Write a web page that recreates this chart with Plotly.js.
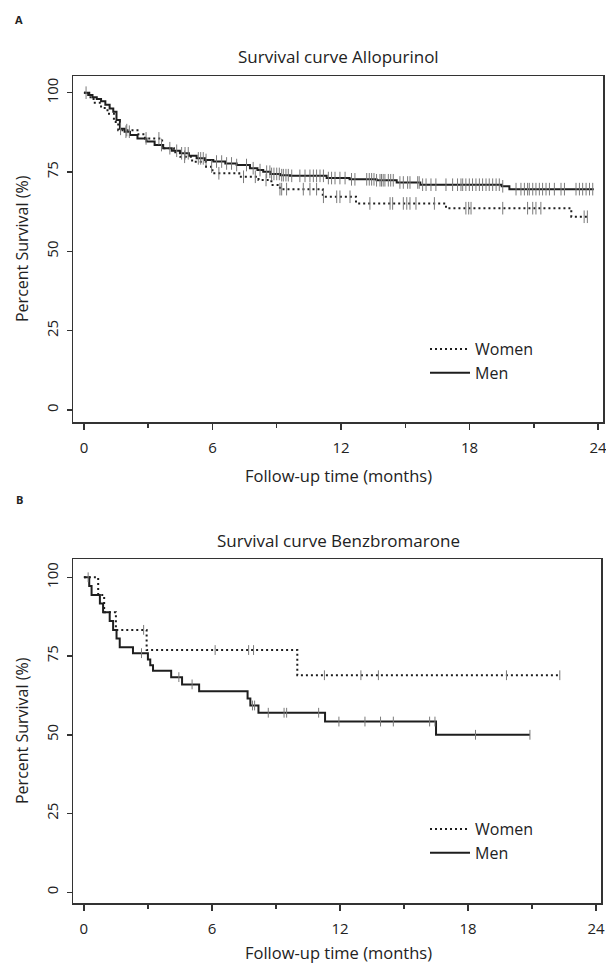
<!DOCTYPE html>
<html><head><meta charset="utf-8">
<script src="https://cdn.plot.ly/plotly-3.0.1.min.js"></script>
<style>html,body{margin:0;padding:0;background:#fff}</style>
</head><body><div id="chart" style="width:606px;height:966px"></div>
<script>
// ---------- Panel A: Allopurinol ----------
const alloWomenTime = [0, 0.25, 0.45, 0.8, 1.1, 1.4, 1.6, 2.5, 2.85, 3.65, 4.2, 4.5, 5.05, 5.7, 6.0, 7.25, 8.15, 8.75, 9.15, 11.15, 12.7, 16.9, 22.75, 23.6];
const alloWomenSurv = [100, 98.6, 96.8, 95.2, 93.4, 90.8, 88.2, 86.9, 85.6, 82.5, 81.2, 79.8, 78.2, 76.7, 74.6, 73.5, 72.5, 70.9, 69.6, 67.2, 65.1, 63.6, 60.9, 60.9];
const alloWomenCens = [2.0, 2.9, 3.5, 4.7, 5.96, 6.3, 7.45, 8.0, 8.5, 9.15, 9.23, 9.46, 10.24, 10.55, 10.86, 11.18, 11.8, 11.95, 12.42, 13.35, 14.29, 14.41, 14.91, 15.07, 15.22, 15.5, 16.36, 17.83, 17.96, 18.07, 19.55, 20.71, 20.95, 21.1, 21.33, 23.35, 23.5];

const alloMenTime = [0, 0.2, 0.4, 0.6, 0.8, 1.0, 1.2, 1.37, 1.52, 1.68, 1.9, 2.15, 2.5, 2.92, 3.3, 3.7, 4.1, 4.48, 4.9, 5.26, 5.65, 6.04, 6.6, 7.13, 7.75, 8.1, 8.37, 8.7, 9.15, 9.62, 11.33, 12.4, 13.66, 14.6, 15.7, 19.5, 19.86, 23.8];
const alloMenSurv = [100, 99.3, 98.6, 98.0, 97.3, 96.2, 95.0, 94.0, 91.4, 88.6, 87.7, 86.7, 85.6, 84.6, 83.5, 82.5, 81.7, 80.9, 80.1, 79.3, 78.8, 78.3, 77.7, 77.2, 76.2, 75.6, 75.1, 74.4, 74.0, 73.8, 73.1, 72.7, 72.4, 71.7, 71.0, 70.5, 69.6, 69.6];
const alloMenCens = [0.1, 1.71, 1.96, 2.12, 3.62, 4.01, 4.33, 4.56, 4.72, 4.87, 5.34, 5.45, 5.57, 5.7, 6.19, 6.43, 6.66, 6.89, 7.13, 7.59, 7.9, 8.22, 8.53, 8.68, 8.76, 8.87, 9.0, 9.12, 9.23, 9.31, 9.43, 9.54, 9.7, 10.08, 10.32, 10.55, 10.71, 10.86, 11.02, 11.18, 11.41, 11.56, 11.72, 11.95, 12.19, 12.49, 12.65, 13.2, 13.32, 13.43, 13.54, 13.66, 13.82, 13.89, 13.97, 14.05, 14.21, 14.32, 14.44, 14.75, 14.91, 15.11, 15.22, 15.58, 15.65, 15.81, 15.97, 16.2, 16.43, 16.9, 17.21, 17.44, 17.6, 17.68, 17.83, 17.99, 18.14, 18.3, 18.46, 18.61, 18.77, 18.92, 19.08, 19.24, 19.39, 19.55, 20.17, 20.4, 20.56, 20.71, 20.79, 20.95, 21.1, 21.26, 21.41, 21.57, 21.73, 21.96, 22.27, 22.43, 22.97, 23.13, 23.28, 23.44, 23.6, 23.75];

// ---------- Panel B: Benzbromarone ----------
const benzWomenTime = [0, 0.67, 0.95, 1.5, 2.94, 10.0, 22.3];
const benzWomenSurv = [100, 94.4, 88.9, 83.3, 76.9, 68.9, 68.9];
const benzWomenCens = [2.8, 6.15, 7.72, 7.95, 11.27, 12.98, 13.8, 19.8, 22.3];

const benzMenTime = [0, 0.25, 0.36, 0.75, 0.9, 1.21, 1.37, 1.53, 1.68, 2.3, 3.0, 3.11, 3.24, 4.09, 4.6, 5.4, 7.67, 7.8, 8.18, 11.3, 16.5, 20.9];
const benzMenSurv = [100, 97.2, 94.4, 91.7, 88.9, 86.1, 83.3, 80.6, 77.8, 75.9, 73.9, 72.1, 70.3, 68.3, 66.0, 63.8, 61.5, 59.3, 57.0, 54.2, 50, 50];
const benzMenCens = [0.2, 2.7, 4.45, 5.07, 7.9, 8.0, 8.64, 9.38, 9.5, 11.0, 11.95, 13.17, 13.9, 14.5, 16.2, 16.45, 18.35, 20.9];

const xMajorTicks = [0, 6, 12, 18, 24];
const xMinorTicks = [3, 9, 15, 21];
const yTicks = [0, 25, 50, 75, 100];
const seriesNames = ['Women', 'Men'];

function stepAt(times, surv, t) {
  let v = surv[0];
  for (let i = 0; i < times.length; i++) { if (times[i] <= t) v = surv[i]; else break; }
  return v;
}

const ink = '#1e1e1e';
const censorColor = '#7a7a7a';
const FONT = 'Open Sans, Noto Sans, sans-serif';

function curveTraces(tw, sw, cw, tm, sm, cm, xa, ya, lg, msize) {
  return [
    {x: tw, y: sw, type: 'scatter', mode: 'lines', name: seriesNames[0], legend: lg,
     xaxis: xa, yaxis: ya, line: {shape: 'hv', dash: '2px,3px', width: 2, color: ink}, hoverinfo: 'skip'},
    {x: tm, y: sm, type: 'scatter', mode: 'lines', name: seriesNames[1], legend: lg,
     xaxis: xa, yaxis: ya, line: {shape: 'hv', width: 2, color: ink}, hoverinfo: 'skip'},
    {x: cw, y: cw.map(t => stepAt(tw, sw, t)), type: 'scatter', mode: 'markers', showlegend: false,
     xaxis: xa, yaxis: ya, marker: {symbol: 'line-ns', size: msize, line: {width: 1, color: censorColor}}, hoverinfo: 'skip'},
    {x: cm, y: cm.map(t => stepAt(tm, sm, t)), type: 'scatter', mode: 'markers', showlegend: false,
     xaxis: xa, yaxis: ya, marker: {symbol: 'line-ns', size: msize, line: {width: 1, color: censorColor}}, hoverinfo: 'skip'}
  ];
}

const data = [
  ...curveTraces(alloWomenTime, alloWomenSurv, alloWomenCens, alloMenTime, alloMenSurv, alloMenCens, 'x', 'y', 'legend', 9),
  ...curveTraces(benzWomenTime, benzWomenSurv, benzWomenCens, benzMenTime, benzMenSurv, benzMenCens, 'x2', 'y2', 'legend2', 7)
];

function xAxis(domain, anchor) {
  return {
    domain: domain, anchor: anchor, range: [-0.51, 24.23],
    tickmode: 'array', tickvals: xMajorTicks, ticktext: xMajorTicks.map(String),
    ticks: 'outside', ticklen: 6, tickwidth: 1.5, tickcolor: '#333',
    minor: {tickmode: 'array', tickvals: xMinorTicks, ticks: 'outside', ticklen: 4, tickwidth: 1.5, tickcolor: '#333'},
    showline: true, mirror: true, linecolor: '#333', linewidth: 1.5,
    showgrid: false, zeroline: false, ticklabelstandoff: 5, ticklabeloverflow: 'allow',
    tickfont: {family: FONT, size: 15, color: '#222'}
  };
}
function yAxis(domain, anchor, range) {
  return {
    domain: domain, anchor: anchor, range: range,
    tickmode: 'array', tickvals: yTicks, ticktext: yTicks.map(String), tickangle: -90,
    ticks: 'outside', ticklen: 5, tickwidth: 1.5, tickcolor: '#333',
    showline: true, mirror: true, linecolor: '#333', linewidth: 1.5,
    showgrid: false, zeroline: false, ticklabelstandoff: 3, ticklabeloverflow: 'allow',
    tickfont: {family: FONT, size: 15, color: '#222'}
  };
}

const H = 966, W = 606;
const py = v => 1 - v / H, px = v => v / W;

function ann(text, x, y, size, opts) {
  return Object.assign({text: text, xref: 'paper', yref: 'paper', x: px(x), y: py(y),
    xanchor: 'center', yanchor: 'middle', showarrow: false,
    font: {family: FONT, size: size, color: '#222'}}, opts || {});
}

const legendBase = {xanchor: 'left', yanchor: 'top', bgcolor: 'rgba(0,0,0,0)', itemwidth: 40,
  font: {family: FONT, size: 16, color: '#222'}, tracegroupgap: 0};

const layout = {
  width: W, height: H, margin: {l: 0, r: 0, t: 0, b: 0},
  paper_bgcolor: '#fff', plot_bgcolor: '#fff',
  font: {family: FONT, color: '#222'},
  xaxis: xAxis([px(73), px(603)], 'y'),
  yaxis: yAxis([py(422), py(76)], 'x', [-3.78, 105.26]),
  xaxis2: xAxis([px(73), px(601)], 'y2'),
  yaxis2: yAxis([py(903), py(559)], 'x2', [-3.4, 105.8]),
  legend: Object.assign({x: px(425), y: py(332)}, legendBase),
  legend2: Object.assign({x: px(425), y: py(812)}, legendBase),
  annotations: [
    ann('<b>A</b>', 19, 20, 11),
    ann('Survival curve Allopurinol', 338, 57, 17),
    ann('Follow-up time (months)', 338, 476, 16.5),
    ann('Percent Survival (%)', 22, 249, 16, {textangle: -90}),
    ann('<b>B</b>', 20, 499, 11),
    ann('Survival curve Benzbromarone', 338, 540, 17),
    ann('Follow-up time (months)', 338, 952, 16.5),
    ann('Percent Survival (%)', 22, 731, 16, {textangle: -90})
  ]
};

Plotly.newPlot('chart', data, layout, {staticPlot: true, displayModeBar: false});
</script>
</body></html>
